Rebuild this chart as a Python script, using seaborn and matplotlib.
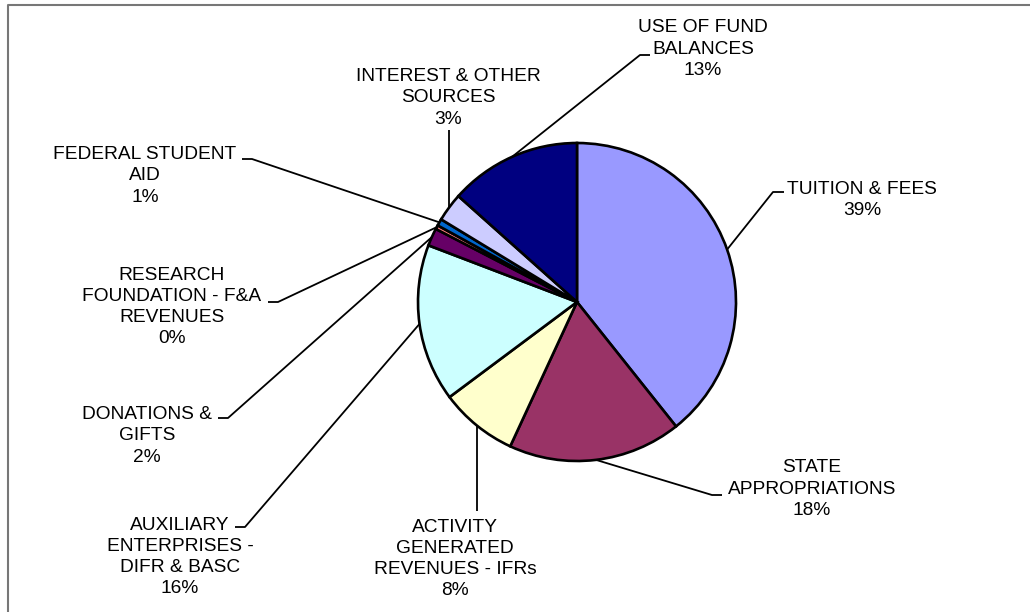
import numpy as np
import matplotlib
matplotlib.use("Agg")
import matplotlib.pyplot as plt
import seaborn as sns

# Revenue sources, in drawing order (clockwise from 12 o'clock)
sources = [
    "TUITION & FEES",
    "STATE\nAPPROPRIATIONS",
    "ACTIVITY\nGENERATED\nREVENUES - IFRs",
    "AUXILIARY\nENTERPRISES -\nDIFR & BASC",
    "DONATIONS &\nGIFTS",
    "RESEARCH\nFOUNDATION - F&A\nREVENUES",
    "FEDERAL STUDENT\nAID",
    "INTEREST & OTHER\nSOURCES",
    "USE OF FUND\nBALANCES",
]
shares = [39.3, 17.6, 7.9, 16.0, 1.8, 0.4, 0.7, 2.9, 13.4]
slice_colors = ["#9999FF", "#993366", "#FFFFCC", "#CCFFFF", "#660066",
                "#FF8080", "#0066CC", "#CCCCFF", "#000080"]

W, H = 1030, 612
CX, CY, R = 577, 302, 159

# label layout in pixel space: (text centre x, text centre y, elbow x, elbow y, tick end x)
label_layout = [
    (862, 200, 773, 192, 784),
    (812, 489, 712, 495, 722),
    (455, 559, None, 511, None),
    (180, 557, 245, 527, 235),
    (147, 436, 228, 418, 218),
    (172, 307, 278, 302, 268),
    (145, 176, 252, 159, 242),
    (448, 98, None, 130, None),
    (703, 49, 640, 55, 650),
]

sns.set_theme(style="white")
plt.rcParams["font.family"] = ["Liberation Sans", "DejaVu Sans"]
palette = sns.color_palette(slice_colors)

fig = plt.figure(figsize=(W / 100, H / 100), dpi=100)
ax = fig.add_axes([0, 0, 1, 1])


def fy(y):
    """Pixel row (top-down) to data y (bottom-up)."""
    return H - y


wedges, _ = ax.pie(
    shares,
    colors=palette,
    startangle=90,
    counterclock=False,
    center=(CX, fy(CY)),
    radius=R,
    wedgeprops=dict(edgecolor="black", linewidth=1.9),
    frame=True,
)
ax.set_xlim(0, W)
ax.set_ylim(0, H)
ax.set_aspect("equal")
ax.axis("off")

total = sum(shares)
for w, name, val, (tx, ty, ex, ey, kx) in zip(wedges, sources, shares, label_layout):
    mid = np.deg2rad((w.theta1 + w.theta2) / 2)
    sx = CX + R * np.cos(mid)
    sy = fy(CY) + R * np.sin(mid)
    if ex is None:
        xs, ys = [sx, sx], [sy, fy(ey)]
    else:
        xs, ys = [sx, ex, kx], [sy, fy(ey), fy(ey)]
    ax.plot(xs, ys, color="black", linewidth=1.3, solid_capstyle="butt")
    pct = f"{round(val / total * 100):d}%"
    ax.text(tx, fy(ty), f"{name}\n{pct}", ha="center", va="center",
            fontsize=13.8, linespacing=1.33, color="black")

# chart area border (top and left edges visible)
ax.plot([8, 8, W + 5], [fy(H + 5), fy(5), fy(5)], color="#777777",
        linewidth=1.5, clip_on=False)

fig.savefig("out.png", dpi=100)
